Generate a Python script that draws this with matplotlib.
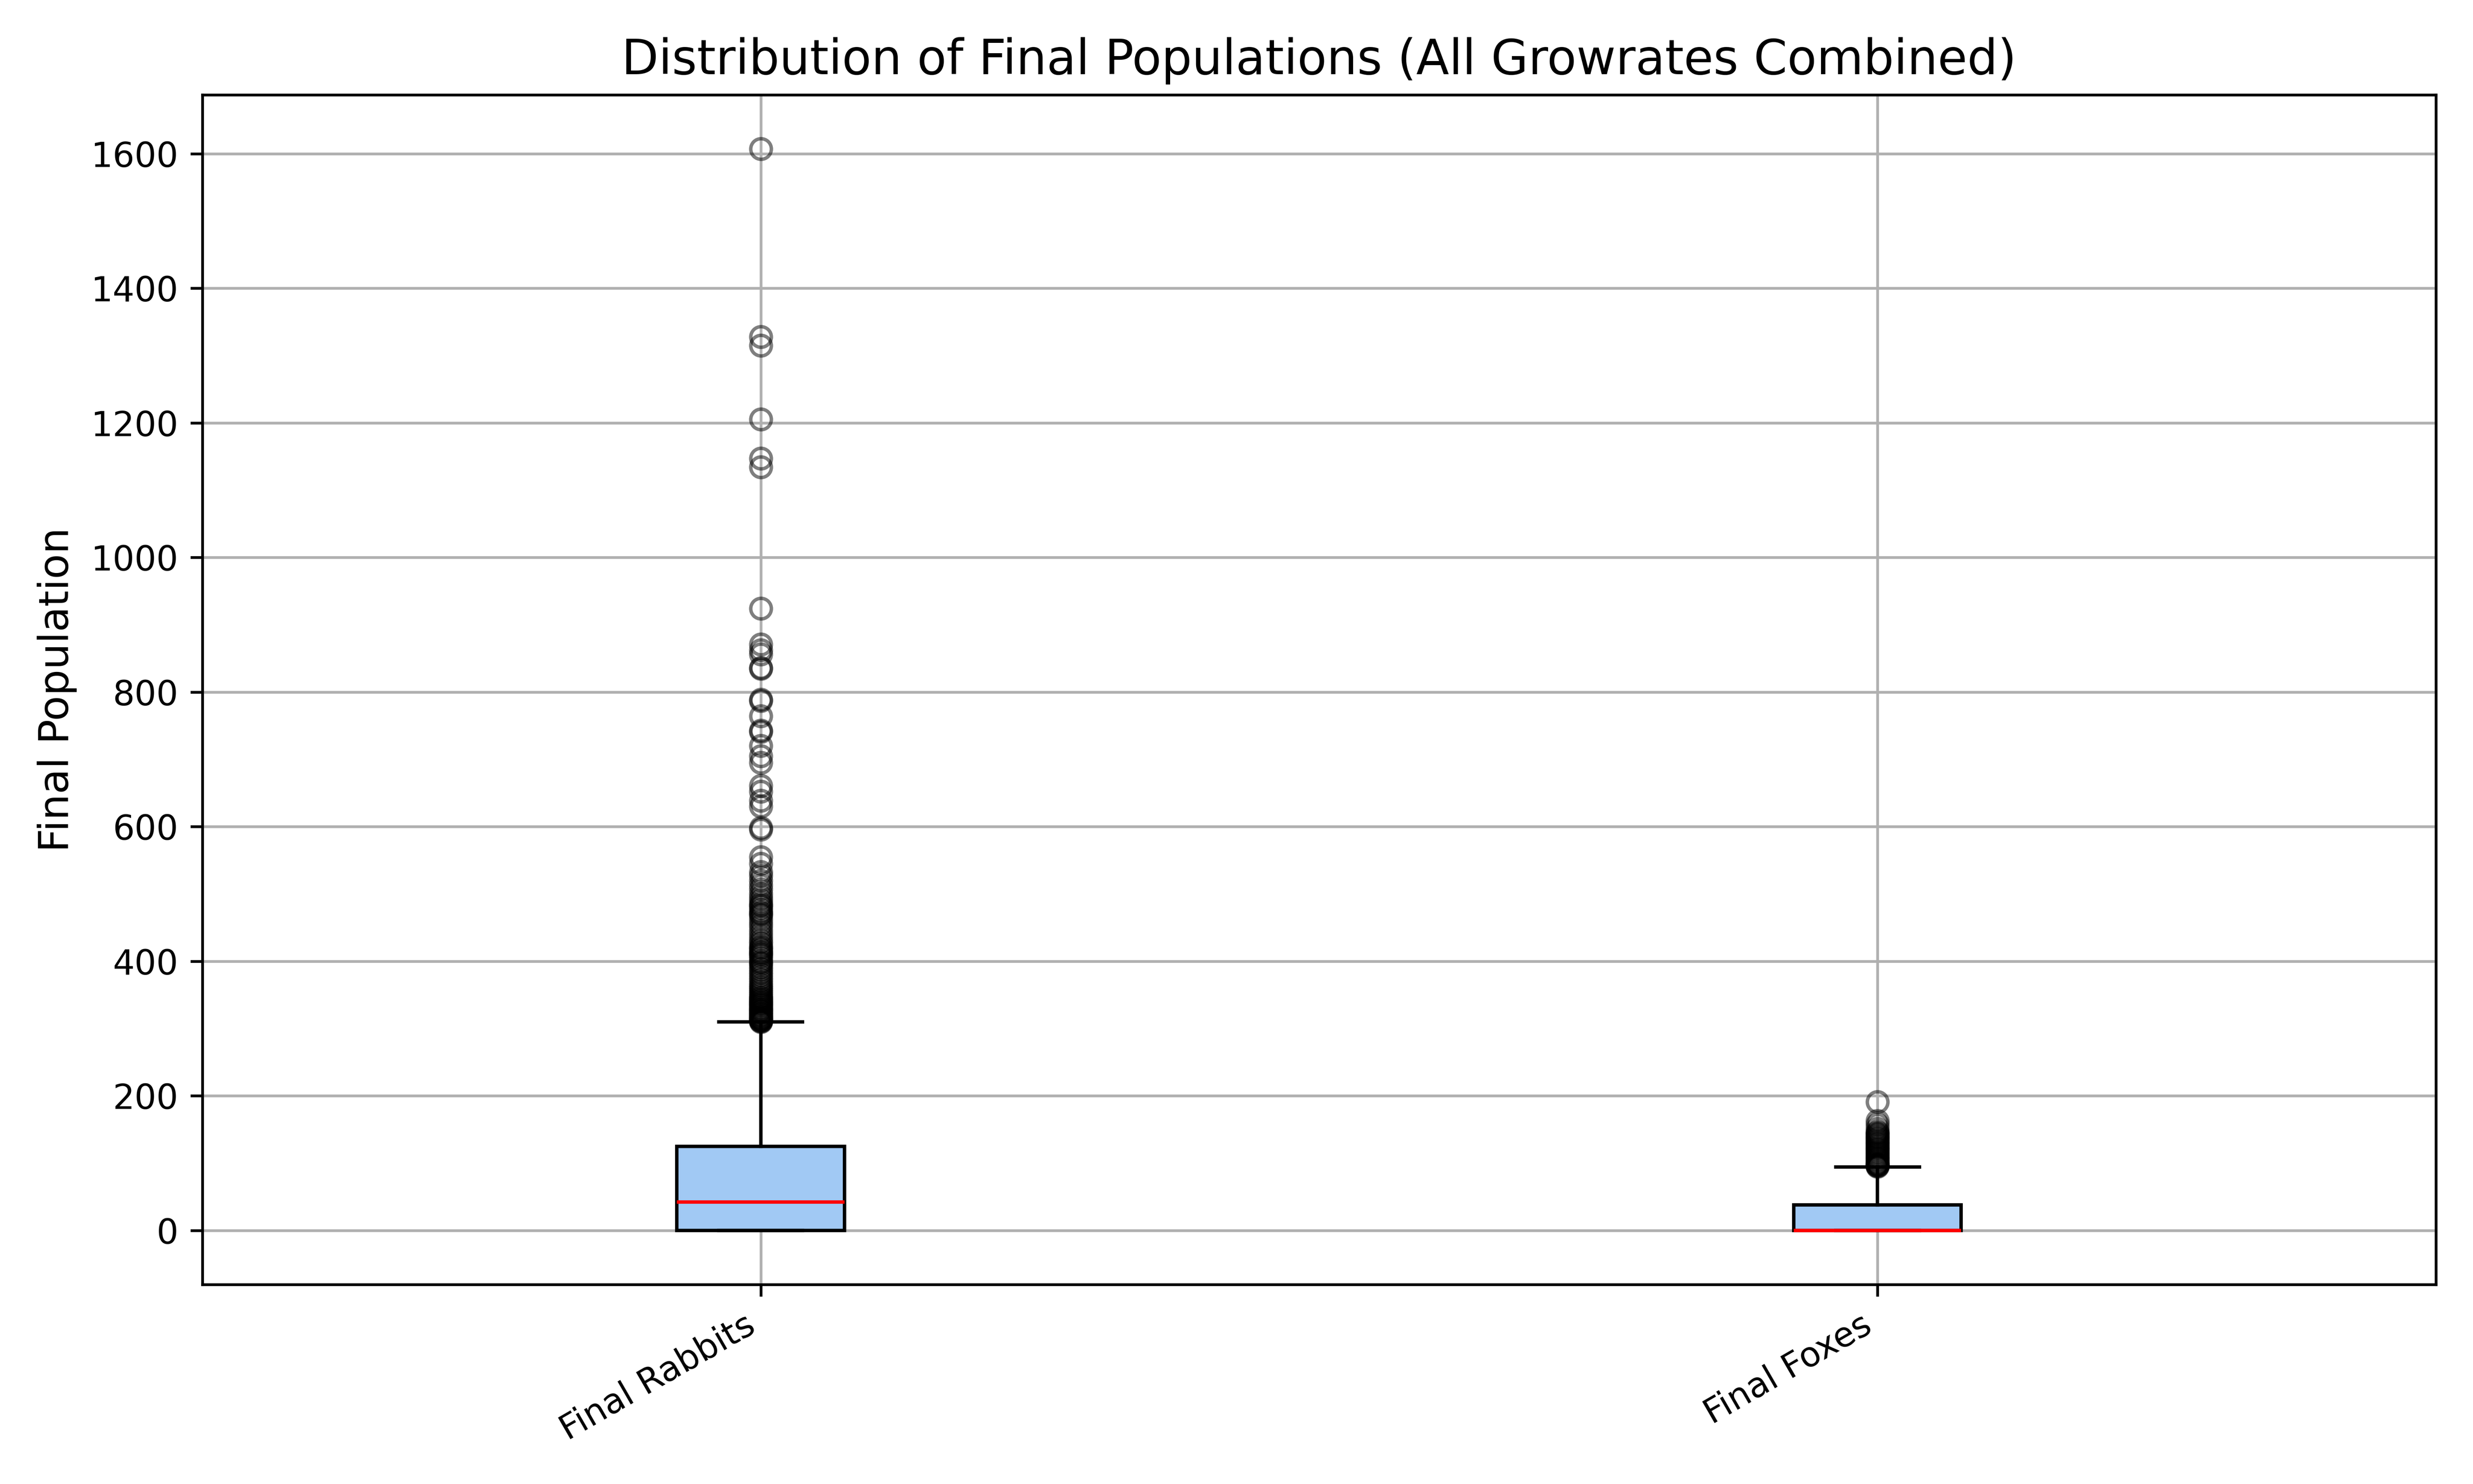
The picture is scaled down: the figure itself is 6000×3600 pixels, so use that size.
import matplotlib
matplotlib.use("Agg")
import matplotlib.pyplot as plt

labels = ["Final Rabbits", "Final Foxes"]

# box stats
q1 = [0, 0]
medians = [42, 0]
q3 = [125, 38]
whis_lo = [0, 0]
whis_hi = [310, 94]

rabbit_fliers = [
    1607, 1328, 1315, 1205, 1147, 1134, 924, 871, 862, 856, 836, 835,
    789, 787, 764, 743, 741, 720, 705, 695, 661, 652, 639, 630, 598, 596,
    555, 545, 533, 527, 520, 513, 507, 500, 495, 490, 485, 483, 480, 476,
    472, 470, 468, 462, 457, 452, 446, 440, 435, 430, 426, 421, 420, 417,
    414, 412, 410, 408, 404, 400, 398, 396, 392, 388, 384, 380, 376, 372,
    368, 364, 361, 358, 355, 352, 349, 346, 345, 343, 341, 340, 338, 337,
    335, 334, 332, 330, 329, 328, 326, 325, 324, 322, 321, 320, 318, 317,
    316, 315, 314, 313, 312, 311, 311, 310,
]
fox_fliers = [
    191, 163, 157, 151, 146, 145, 143, 141, 139, 137, 135, 133, 131, 129,
    127, 125, 123, 121, 119, 117, 115, 113, 111, 109, 107, 105, 103, 101,
    99, 98, 97, 96, 96, 95,
]
fliers = [rabbit_fliers, fox_fliers]

stats = []
for i in range(len(labels)):
    stats.append({
        "label": labels[i],
        "q1": q1[i],
        "med": medians[i],
        "q3": q3[i],
        "whislo": whis_lo[i],
        "whishi": whis_hi[i],
        "fliers": fliers[i],
    })

fig, ax = plt.subplots(figsize=(10, 6), dpi=600)
bp = ax.bxp(
    stats,
    patch_artist=True,
    boxprops=dict(facecolor="#a1c9f4", edgecolor="black"),
    medianprops=dict(color="red"),
    flierprops=dict(marker="o", markerfacecolor="none",
                    markeredgecolor="black", alpha=0.5),
)

ax.set_title("Distribution of Final Populations (All Growrates Combined)", fontsize=14)
ax.set_ylabel("Final Population", fontsize=12)
ax.grid(True)
plt.setp(ax.get_xticklabels(), rotation=30, ha="right")
fig.tight_layout()
fig.savefig("out.png", dpi=600)
